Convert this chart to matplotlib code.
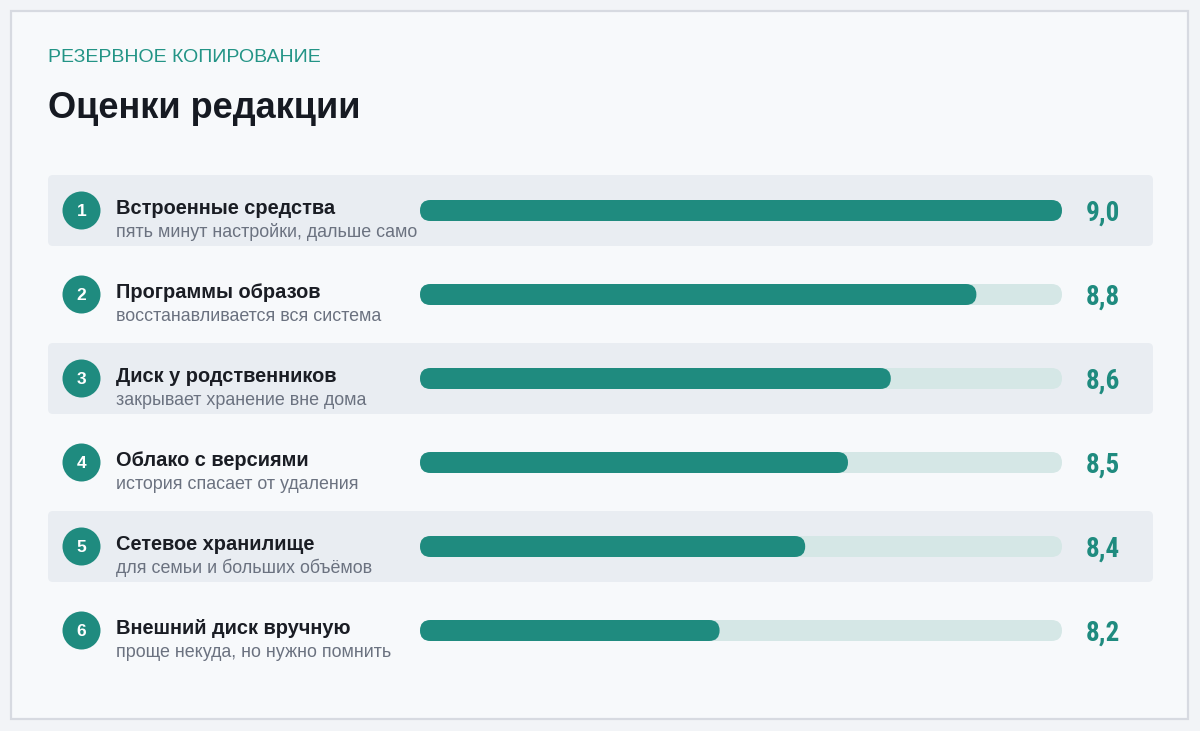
import matplotlib
matplotlib.use("Agg")
import matplotlib.pyplot as plt
from matplotlib import font_manager
from matplotlib.font_manager import FontProperties
from matplotlib.patches import FancyBboxPatch, Ellipse, Rectangle
from matplotlib.transforms import blended_transform_factory

# ---- data ----
kicker = "РЕЗЕРВНОЕ КОПИРОВАНИЕ"
title = "Оценки редакции"
ranks = ["1", "2", "3", "4", "5", "6"]
names = ["Встроенные средства", "Программы образов", "Диск у родственников",
         "Облако с версиями", "Сетевое хранилище", "Внешний диск вручную"]
notes = ["пять минут настройки, дальше само", "восстанавливается вся система",
         "закрывает хранение вне дома", "история спасает от удаления",
         "для семьи и больших объёмов", "проще некуда, но нужно помнить"]
scores = [9.0, 8.8, 8.6, 8.5, 8.4, 8.2]
score_labels = ["9,0", "8,8", "8,6", "8,5", "8,4", "8,2"]
scale_min, scale_max = 7.5, 9.0

# ---- style ----
TEAL = "#1f8b7f"
TRACK = "#d5e7e6"
BAND = "#e9edf2"
INNER = "#f7f9fb"
OUTER = "#f2f4f7"
BORDER = "#d7dae1"

fl = font_manager.fontManager.ttflist
available = {f.name for f in fl}
SANS = "Liberation Sans" if "Liberation Sans" in available else "DejaVu Sans"
plt.rcParams["font.family"] = [SANS, "DejaVu Sans"]

val_fp = None
for fname in ["RobotoCondensed-Bold.ttf", "IBMPlexSansCondensed-Bold.ttf",
              "FiraSansCondensed-Bold.ttf", "BarlowCondensed-Bold.ttf", "AsapCondensed-Bold.ttf"]:
    hit = [f.fname for f in fl if f.fname.split("/")[-1] == fname]
    if hit:
        val_fp = FontProperties(fname=hit[0], size=19.5)
        break
if val_fp is None:
    val_fp = FontProperties(family="DejaVu Sans", weight="bold", size=16)

W, H = 1200, 731
fig = plt.figure(figsize=(W / 100, H / 100), dpi=100)
fig.patch.set_facecolor(OUTER)

bg = fig.add_axes([0, 0, 1, 1])
bg.set_xlim(0, W)
bg.set_ylim(H, 0)
bg.axis("off")

# card
bg.add_patch(Rectangle((11, 11), 1177, 708, facecolor=INNER, edgecolor=BORDER, lw=1.6, zorder=0))

bg.text(48, 62, kicker, color="#239486", fontsize=14, va="baseline", ha="left")
bg.text(48, 118, title, color="#161a22", fontsize=26, fontweight="bold", va="baseline", ha="left")

# bar axes: rows stacked vertically, x = score scale
row_h = 84
top = 168.5
n = len(scores)
ax = fig.add_axes([420 / W, 1 - (top + n * row_h) / H, 642 / W, n * row_h / H])
ax.set_xlim(scale_min, scale_max)
ax.set_ylim(n - 0.5, -0.5)
ax.axis("off")
ax.patch.set_alpha(0)

tr = blended_transform_factory(bg.transData, ax.transData)

px_per_unit_x = 642 / (scale_max - scale_min)
bar_h_px = 21
bar_h = bar_h_px / row_h
rad = (bar_h_px / 2) / px_per_unit_x
aspect = (1 / row_h) / (1 / px_per_unit_x)

for i, (nm, nt, sc, lab, rk) in enumerate(zip(names, notes, scores, score_labels, ranks)):
    if i % 2 == 0:
        band_h = 71 / row_h
        bg.add_patch(FancyBboxPatch((48, i - band_h / 2), 1105, band_h,
                                    boxstyle="round,pad=0,rounding_size=5",
                                    mutation_aspect=1 / row_h,
                                    facecolor=BAND, edgecolor="none", transform=tr, zorder=1))
    bg.add_patch(Ellipse((81.5, i), 38, 38 / row_h, facecolor=TEAL, edgecolor="none",
                         transform=tr, zorder=3))
    bg.text(81.5, i + 0.5 / row_h, rk, transform=tr, color="white", fontsize=12.5, fontweight="bold",
            ha="center", va="center", zorder=4)
    bg.text(116, i + 3 / row_h, nm, transform=tr, color="#1a1d24", fontsize=14.4,
            fontweight="bold", ha="left", va="baseline", zorder=4)
    bg.text(116, i + 26.5 / row_h, nt, transform=tr, color="#6b7280", fontsize=12.9,
            ha="left", va="baseline", zorder=4)
    # track + value bar
    ax.add_patch(FancyBboxPatch((scale_min, i - bar_h / 2), scale_max - scale_min, bar_h,
                                boxstyle=f"round,pad=0,rounding_size={rad}",
                                mutation_aspect=aspect, facecolor=TRACK, edgecolor="none", zorder=2))
    ax.add_patch(FancyBboxPatch((scale_min, i - bar_h / 2), sc - scale_min, bar_h,
                                boxstyle=f"round,pad=0,rounding_size={rad}",
                                mutation_aspect=aspect, facecolor=TEAL, edgecolor="none", zorder=3))
    bg.text(1086, i + 10.5 / row_h, lab, transform=tr, color=TEAL, fontproperties=val_fp,
            ha="left", va="baseline", zorder=4)

fig.savefig("out.png", dpi=100, facecolor=fig.get_facecolor())
